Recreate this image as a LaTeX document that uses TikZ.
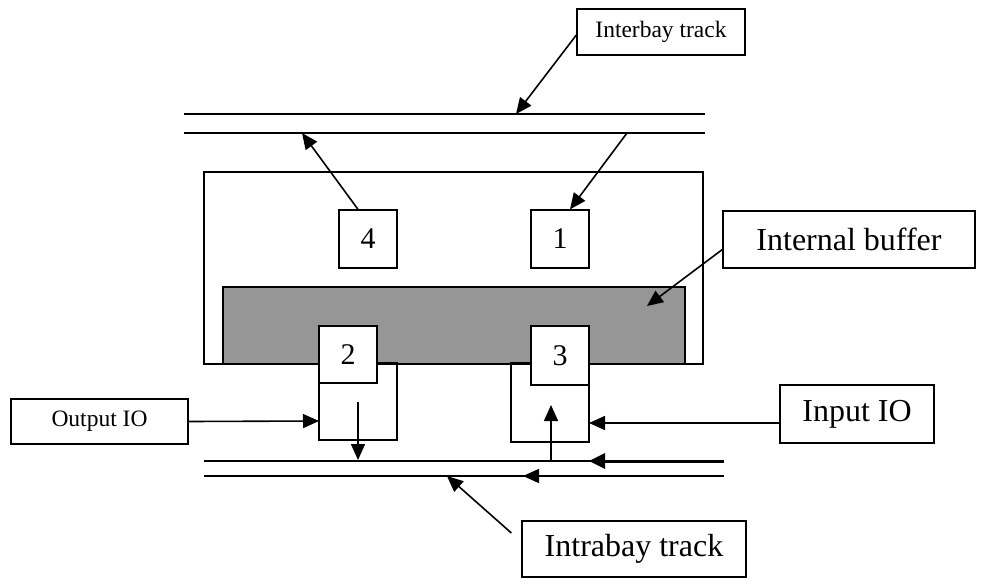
\documentclass[tikz,border=0pt]{standalone}
\usepackage{fontspec}
\setmainfont{Liberation Serif}
\usetikzlibrary{arrows.meta,calc}
\definecolor{bufgray}{RGB}{150,150,150}
\tikzset{
  frame/.style={draw=black, line width=1.3pt},
  lbox/.style={draw=black, fill=white, line width=1.3pt, inner sep=0pt, anchor=center},
  bigtext/.style={font=\fontsize{32}{36}\selectfont},
  smalltext/.style={font=\fontsize{23.5}{26}\selectfont},
  digit/.style={font=\fontsize{30}{32}\selectfont},
  conn/.style={line width=1.6pt, -{Triangle[length=16pt,width=14pt]}},
  track/.style={line width=1.4pt},
}
\begin{document}
\begin{tikzpicture}[x=1pt,y=-1pt]
\useasboundingbox (0,0) rectangle (1007,579);
% outer bay box and buffer
\draw[frame] (204,172) rectangle (703,364);
\draw[frame, fill=bufgray] (223,287) rectangle (685,364);
% lower IO frames
\draw[frame] (319,363) rectangle (397,440);
\draw[frame] (511,363) rectangle (589,442);
% stations
\node[lbox, digit, minimum width=58pt, minimum height=58pt] (b4) at (368,239) {4};
\node[lbox, digit, minimum width=58pt, minimum height=58pt] (b1) at (560,239) {1};
\node[lbox, digit, minimum width=58pt, minimum height=57pt] (b2) at (348,354.5) {2};
\node[lbox, digit, minimum width=58pt, minimum height=59pt] (b3) at (560,355.5) {3};
% tracks
\coordinate (it1a) at (184,114); \coordinate (it1b) at (705,114);
\coordinate (it2a) at (184,133); \coordinate (it2b) at (705,133);
\draw[track] (it1a) -- (it1b);
\draw[track] (it2a) -- (it2b);
\coordinate (bt1a) at (204,461); \coordinate (bt1b) at (724,461);
\coordinate (bt2a) at (204,476); \coordinate (bt2b) at (724,476);
\draw[track] (bt1a) -- (bt1b);
\draw[track] (bt2a) -- (bt2b);
% labels
\node[lbox, smalltext, minimum width=168pt, minimum height=46pt] (interbay) at (661,32) {Interbay track};
\node[lbox, bigtext, minimum width=252pt, minimum height=57pt] (internal) at (849,239.5) {Internal buffer};
\node[lbox, smalltext, minimum width=177pt, minimum height=45pt] (output) at (99.5,421.5) {Output IO};
\node[lbox, bigtext, minimum width=154pt, minimum height=58pt] (input) at (857,414) {Input IO};
\node[lbox, bigtext, minimum width=224pt, minimum height=56pt] (intrabay) at (634,549) {Intrabay track};
% connector target points
\coordinate (ibtip) at (516,114);
\coordinate (t4) at (302,133);
\coordinate (t1) at (627,133);
\coordinate (buftip) at (647,306);
\coordinate (f2tip) at (319,421);
\coordinate (f3tip) at (589,423);
\coordinate (dstart) at (358,402);
\coordinate (dtip) at (358,460);
\coordinate (ustart) at (551,461);
\coordinate (utip) at (551,405);
\coordinate (intratip) at (447,476);
\coordinate (thickstart) at (724,461);
\coordinate (thicktip) at (589,461);
\coordinate (lowtip) at (523,476);
% connectors
\draw[conn] ($(interbay.west)+(0,3)$) -- (ibtip);
\draw[conn] ($(b4.north)+(-10,0)$) -- (t4);
\draw[conn] (t1) -- ($(b1.north)+(10,0)$);
\draw[conn] ($(internal.west)+(0,10)$) -- (buftip);
\draw[conn] (output.east) -- (f2tip);
\draw[conn] ($(input.west)+(0,9)$) -- (f3tip);
\draw[conn] (dstart) -- (dtip);
\draw[conn] (ustart) -- (utip);
\draw[conn] ($(intrabay.west)+(-10,-16)$) -- (intratip);
\draw[line width=3pt, -{Triangle[length=16pt,width=15pt]}] (thickstart) -- (thicktip);
\draw[line width=1.6pt, -{Triangle[length=16pt,width=14pt]}] (bt2b) -- (lowtip);
\end{tikzpicture}
\end{document}
